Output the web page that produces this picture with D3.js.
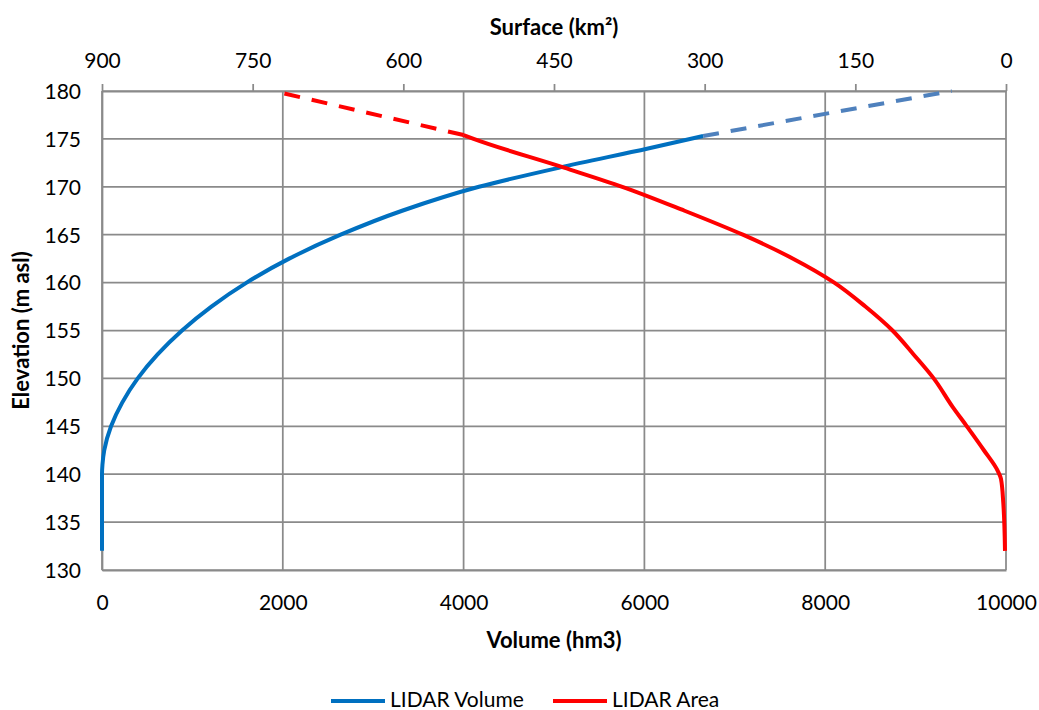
<!DOCTYPE html>
<html>
<head>
<meta charset="utf-8">
<script src="https://cdn.jsdelivr.net/npm/d3@7"></script>
<style>
  body { margin: 0; background: #fff; }
  svg { font-family: Lato, "Open Sans", sans-serif; }
</style>
</head>
<body>
<svg id="chart"></svg>
<script>
// elevation (m asl) vs LIDAR volume (hm3)
const volElev = [132, 140, 141, 142.5, 145, 147.5, 150, 152.5, 155, 157.5, 160, 162.5, 165, 167.5, 170, 172, 174, 175.3];
const volValues = [0, 0, 5, 25, 100, 225, 395, 615, 885, 1210, 1600, 2070, 2640, 3320, 4170, 5060, 6040, 6650];
// extrapolated part (dashed)
const volElevExt = [175.3, 177.7, 180];
const volValuesExt = [6650, 8050, 9400];

// elevation vs LIDAR area (km2)
const areaElev = [132, 137, 139.5, 140.3, 142.5, 145, 147, 150, 152.5, 155, 157.5, 160, 162.5, 165, 167.5, 170, 172, 175, 175.4];
const areaValues = [1, 2.7, 5, 8, 22, 39, 53, 72, 92, 113, 140, 171, 212, 262, 320, 382, 440, 530, 540];
const areaElevExt = [175.4, 180];
const areaValuesExt = [540, 729];

const volumeTicks = [0, 2000, 4000, 6000, 8000, 10000];
const surfaceTicks = [900, 750, 600, 450, 300, 150, 0];
const elevTicks = [130, 135, 140, 145, 150, 155, 160, 165, 170, 175, 180];

const width = 1039, height = 710;
const margin = { top: 91, right: 33, bottom: 140, left: 102 };

const svg = d3.select("#chart")
  .attr("width", width)
  .attr("height", height);

const x = d3.scaleLinear().domain([0, 10000]).range([margin.left, width - margin.right]);
const xTop = d3.scaleLinear().domain([900, 0]).range([margin.left, width - margin.right]);
const y = d3.scaleLinear().domain([130, 180]).range([height - margin.bottom, margin.top]);

const gridColor = "#8a8a8a";

// grid
svg.append("g")
  .selectAll("line")
  .data(elevTicks)
  .join("line")
  .attr("x1", x(0)).attr("x2", x(10000))
  .attr("y1", d => y(d)).attr("y2", d => y(d))
  .attr("stroke", gridColor)
  .attr("stroke-width", 1.75);

svg.append("g")
  .selectAll("line")
  .data(volumeTicks)
  .join("line")
  .attr("x1", d => x(d)).attr("x2", d => x(d))
  .attr("y1", y(130)).attr("y2", y(180))
  .attr("stroke", gridColor)
  .attr("stroke-width", 1.75);

// axes
const xAxis = svg.append("g")
  .attr("transform", `translate(0,${y(130)})`)
  .call(d3.axisBottom(x).tickValues(volumeTicks).tickSize(0).tickPadding(25).tickFormat(d3.format("d")));

const topAxis = svg.append("g")
  .attr("transform", `translate(0,${y(180)})`)
  .call(d3.axisTop(xTop).tickValues(surfaceTicks).tickSize(7).tickSizeOuter(0).tickPadding(16).tickFormat(d3.format("d")));

const yAxis = svg.append("g")
  .attr("transform", `translate(${x(0)},0)`)
  .call(d3.axisLeft(y).tickValues(elevTicks).tickSize(0).tickPadding(21));

[xAxis, topAxis, yAxis].forEach(g => {
  g.select(".domain").attr("stroke", gridColor).attr("stroke-width", 1.75);
  g.selectAll(".tick line").attr("stroke", gridColor).attr("stroke-width", 1.75);
  g.selectAll(".tick text")
    .attr("fill", "#000")
    .style("font-size", "21px")
    .style("font-family", "Lato, sans-serif");
});
yAxis.selectAll(".tick text").attr("dy", "0.35em");

// axis titles
svg.append("text")
  .attr("x", (x(0) + x(10000)) / 2)
  .attr("y", 35)
  .attr("text-anchor", "middle")
  .style("font-size", "22px")
  .style("font-weight", "bold")
  .text("Surface (km²)");

svg.append("text")
  .attr("x", (x(0) + x(10000)) / 2)
  .attr("y", 648)
  .attr("text-anchor", "middle")
  .style("font-size", "22px")
  .style("font-weight", "bold")
  .text("Volume (hm3)");

svg.append("text")
  .attr("transform", `translate(29,${(y(130) + y(180)) / 2}) rotate(-90)`)
  .attr("text-anchor", "middle")
  .style("font-size", "22px")
  .style("font-weight", "bold")
  .text("Elevation (m asl)");

// curves
const volLine = d3.line()
  .x(d => x(d[1]))
  .y(d => y(d[0]))
  .curve(d3.curveMonotoneY);

const areaLine = d3.line()
  .x(d => xTop(d[1]))
  .y(d => y(d[0]))
  .curve(d3.curveMonotoneY);

svg.append("path")
  .datum(d3.zip(volElev, volValues))
  .attr("d", volLine)
  .attr("fill", "none")
  .attr("stroke", "#0070c0")
  .attr("stroke-width", 4);

svg.append("path")
  .datum(d3.zip(volElevExt, volValuesExt))
  .attr("d", volLine)
  .attr("fill", "none")
  .attr("stroke", "#4f81bd")
  .attr("stroke-width", 4)
  .attr("stroke-dasharray", "16,12");

svg.append("path")
  .datum(d3.zip(areaElev, areaValues))
  .attr("d", areaLine)
  .attr("fill", "none")
  .attr("stroke", "#ff0000")
  .attr("stroke-width", 4);

svg.append("path")
  .datum(d3.zip(areaElevExt, areaValuesExt))
  .attr("d", areaLine)
  .attr("fill", "none")
  .attr("stroke", "#ff0000")
  .attr("stroke-width", 4)
  .attr("stroke-dasharray", "16,12");

// legend
const legendItems = [
  { label: "LIDAR Volume", color: "#0070c0", x: 331 },
  { label: "LIDAR Area", color: "#ff0000", x: 553 }
];

const legend = svg.append("g")
  .selectAll("g")
  .data(legendItems)
  .join("g")
  .attr("transform", d => `translate(${d.x},700)`);

legend.append("line")
  .attr("x1", 0).attr("x2", 54)
  .attr("y1", 1).attr("y2", 1)
  .attr("stroke", d => d.color)
  .attr("stroke-width", 4);

legend.append("text")
  .attr("x", 59)
  .attr("dy", "0.35em")
  .style("font-size", "21px")
  .text(d => d.label);
</script>
</body>
</html>
